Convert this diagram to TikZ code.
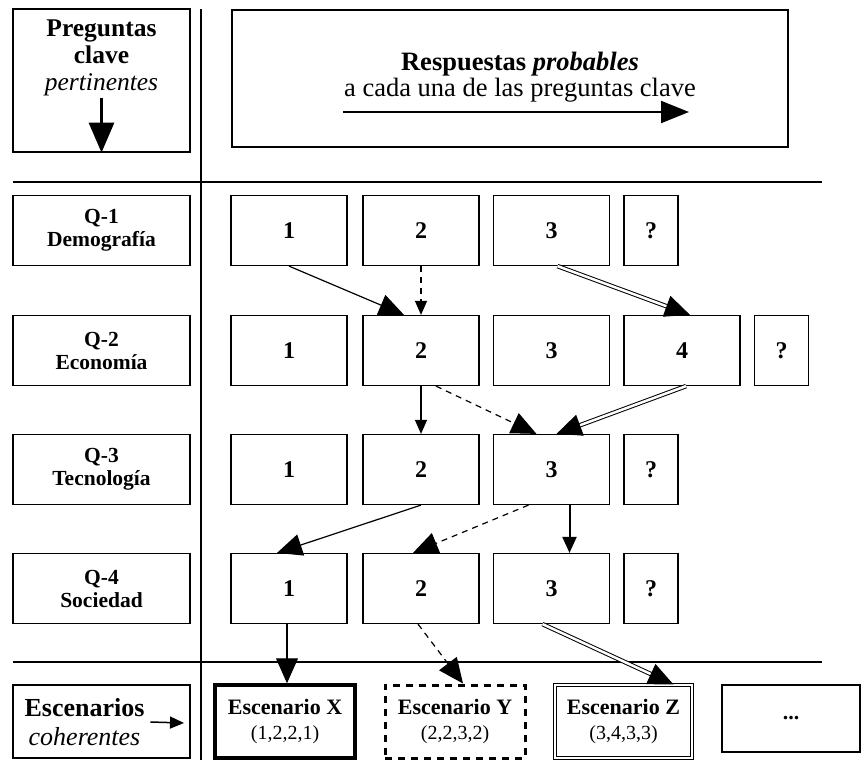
\documentclass[tikz,border=0pt]{standalone}
\usepackage{fontspec}
\setmainfont{Liberation Serif}
\usetikzlibrary{arrows.meta}

\def\boxw{116}
\def\boxh{70}

\begin{document}
\begin{tikzpicture}[x=1pt,y=-1pt,line width=1.2pt,
    resp/.style={draw,minimum width=\boxw pt,minimum height=\boxh pt,inner sep=0pt,
      font=\fontsize{24}{26}\selectfont\bfseries},
    qsmall/.style={resp,minimum width=54pt},
    preg/.style={draw,minimum width=177pt,minimum height=\boxh pt,align=center,inner sep=0pt,
      font=\fontsize{21.5}{23}\selectfont\bfseries},
    esc/.style={minimum width=140pt,minimum height=73pt,align=center,inner sep=0pt,
      font=\fontsize{20}{25}\selectfont},
    big/.style={-{Triangle[length=25pt,width=22pt]}},
    small/.style={-{Triangle[length=14pt,width=12pt]}},
    doble/.style={double,double distance=2.5pt,line width=1pt},
    guion/.style={dash pattern=on 6pt off 5pt}]

    \useasboundingbox (0,0) rectangle (863,766);

    \node[draw,minimum width=177pt,minimum height=143pt] (pq) at (101.5,80.5) {};
    \node[align=center,font=\fontsize{25.5}{27}\selectfont] (pqt) at (101.5,58)
    {\textbf{Preguntas}\\\textbf{clave}\\\textit{pertinentes}};
    \draw[line width=3pt,-{Triangle[length=30pt,width=25pt]}] ([yshift=55]pq.south) -- (pq.south);

    \node[draw,minimum width=556pt,minimum height=137pt] (rp) at (510,78.5) {};
    \node[align=center,font=\fontsize{26.5}{26}\selectfont] (rpt) at (520,77)
    {\textbf{Respuestas \textit{probables}}\\a cada una de las preguntas clave};
    \coordinate (ra) at (343,112);
    \coordinate (rb) at (689,112);
    \draw[line width=2pt,-{Triangle[length=28pt,width=22pt]}] (ra) -- (rb);

    \draw (13,182) -- (822,182);
    \draw (13,662) -- (822,662);
    \draw (201,9) -- (201,760);

    \node[preg] (q1) at (101.5,230.5) {Q-1\\Demografía};
    \node[preg] (q2) at (101.5,350.5) {Q-2\\Economía};
    \node[preg] (q3) at (101.5,469.5) {Q-3\\Tecnología};
    \node[preg] (q4) at (101.5,588.5) {Q-4\\Sociedad};

    \node[resp] (q1a) at (289,230.5) {1};
    \node[resp] (q1b) at (421,230.5) {2};
    \node[resp] (q1c) at (551.5,230.5) {3};
    \node[qsmall] (q1x) at (651,230.5) {?};

    \node[resp] (q2a) at (289,350.5) {1};
    \node[resp] (q2b) at (421,350.5) {2};
    \node[resp] (q2c) at (551.5,350.5) {3};
    \node[resp] (q2d) at (682,350.5) {4};
    \node[qsmall] (q2x) at (781.5,350.5) {?};

    \node[resp] (q3a) at (289,469.5) {1};
    \node[resp] (q3b) at (421,469.5) {2};
    \node[resp] (q3c) at (551.5,469.5) {3};
    \node[qsmall] (q3x) at (651,469.5) {?};

    \node[resp] (q4a) at (289,588.5) {1};
    \node[resp] (q4b) at (421,588.5) {2};
    \node[resp] (q4c) at (551.5,588.5) {3};
    \node[qsmall] (q4x) at (651,588.5) {?};

    \node[draw,minimum width=177pt,minimum height=73pt] (sc) at (101.5,721.5) {};
    \node[align=center,font=\fontsize{26}{29}\selectfont] (sct) at (84.5,722)
    {\textbf{Escenarios}\\\textit{coherentes}};
    \coordinate (scb) at (184,723);
    \draw[line width=1.5pt,small] ([xshift=2]sct.east) -- (scb);

    \node[esc,draw,line width=3.5pt] (sx) at (285,721.5)
    {{\fontsize{22}{25}\selectfont\bfseries Escenario X}\\(1,2,2,1)};
    \node[esc,draw,line width=3pt,dash pattern=on 7pt off 6pt] (sy) at (455,721.5)
    {{\fontsize{22}{25}\selectfont\bfseries Escenario Y}\\(2,2,3,2)};
    \node[esc,draw,double,double distance=2pt,line width=1pt,minimum width=137pt] (sz) at (623.5,721.5)
    {{\fontsize{22}{25}\selectfont\bfseries Escenario Z}\\(3,4,3,3)};
    \node[esc,draw,minimum width=138pt,minimum height=67pt,font=\fontsize{22}{23}\selectfont\bfseries]
    (sm) at (791,718.5) {...};

    \draw[big] (q1a.south) -- ([xshift=-17]q2b.north);
    \draw[guion,small] (q1b.south) -- (q2b.north);
    \draw[doble,big] ([xshift=6]q1c.south) -- ([xshift=8]q2d.north);

    \draw[small] (q2b.south) -- (q3b.north);
    \draw[guion,big] ([xshift=15]q2b.south) -- ([xshift=-15]q3c.north);
    \draw[doble,big] ([xshift=4]q2d.south) -- ([xshift=5]q3c.north);

    \draw[big] (q3b.south) -- ([xshift=-12]q4a.north);
    \draw[guion,big] ([xshift=-23]q3c.south) -- ([xshift=-8]q4b.north);
    \draw[line width=2pt,-{Triangle[length=16pt,width=14pt]}] ([xshift=18]q3c.south) -- ([xshift=18]q4c.north);

    \draw[big] ([xshift=-2]q4a.south) -- ([xshift=2]sx.north);
    \draw[guion,big] ([xshift=-3]q4b.south) -- ([xshift=8]sy.north);
    \draw[doble,big] ([xshift=-9]q4c.south) -- ([xshift=50]sz.north);
  \end{tikzpicture}
\end{document}
